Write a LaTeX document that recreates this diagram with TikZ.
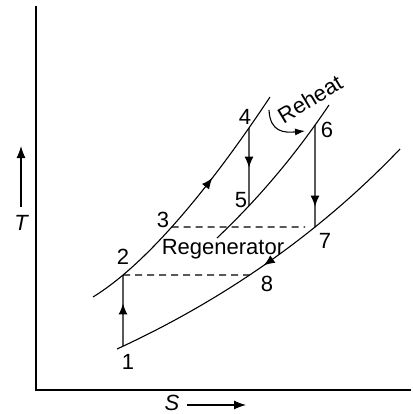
\documentclass[tikz,border=0pt]{standalone}
\usepackage{fontspec}
\setmainfont{Liberation Sans}
\usetikzlibrary{arrows.meta,decorations.markings,intersections}

\tikzset{
  midarrow/.style={postaction={decorate},
    decoration={markings,mark=at position #1 with {\arrow{Latex[length=11pt,width=9pt]}}}},
  backarrow/.style={postaction={decorate},
    decoration={markings,mark=at position #1 with {\arrowreversed{Latex[length=11pt,width=9pt]}}}},
  lbl/.style={font=\fontsize{22}{26}\selectfont, inner sep=0pt},
  regen/.style={dash pattern=on 7pt off 5pt},
}

\begin{document}
\begin{tikzpicture}[x=1pt,y=-1pt,line width=1.1pt]
	\useasboundingbox (0,0) rectangle (412,414);
	
	% axes
	\draw (36,6) -- (36,390) -- (411,390);
	\draw[-{Latex[length=12pt,width=9pt]}] (21,207) -- (21,146);
	\draw[-{Latex[length=12pt,width=9pt]}] (187,405) -- (246,405);
	\node[lbl] (T) at (21,223) {\itshape T};
	\node[lbl] (S) at (172,403) {\itshape S};
	
	% constant pressure lines
	\draw[name path=high,midarrow=0.63] (93,297) .. controls (150,262) and (215,180) .. (270,97);
	\draw[name path=mid] (217,238) .. controls (257,200) and (294,157) .. (329,105);
	\draw[name path=low,backarrow=0.485] (117,349) .. controls (217,303) and (315,238) .. (400,149);
	
	% state points
	\path[name path=s12] (123,0) -- (123,414);
	\path[name path=s45] (249,0) -- (249,414);
	\path[name path=s67] (315,0) -- (315,414);
	\path[name path=h3] (0,227) -- (412,227);
	\path[name intersections={of=s12 and low,by=p1}];
	\path[name intersections={of=s12 and high,by=p2}];
	\path[name intersections={of=h3 and high,by=p3}];
	\path[name intersections={of=s45 and high,by=p4}];
	\path[name intersections={of=s45 and mid,by=p5}];
	\path[name intersections={of=s67 and mid,by=p6}];
	\path[name intersections={of=s67 and low,by=p7}];
	\path[name path=h2] (p2) -- ++(300,0);
	\path[name intersections={of=h2 and low,by=p8}];
	\coordinate (r3) at (305,227);
	
	% compression and expansion
	\draw[midarrow=0.6] (p1) -- (p2);
	\draw[midarrow=0.51] (p4) -- (p5);
	\draw[midarrow=0.8] (p6) -- (p7);
	
	% regenerator
	\draw[regen] (p3) -- (r3);
	\draw[regen] (p2) -- (p8);
	
	% reheat
	\coordinate (rh0) at (269,110);
	\coordinate (rh1) at (305,131);
	\draw[-{Latex[length=10pt,width=7pt]}] (rh0) .. controls (270,132) and (284,133) .. (rh1);
	\node[lbl,rotate=31] (reheat) at (310,99) {Reheat};
	
	\node[lbl] (n1) at (128,362) {1};
	\node[lbl] (n2) at (123,257) {2};
	\node[lbl] (n3) at (163,220) {3};
	\node[lbl] (n4) at (245,117) {4};
	\node[lbl] (n5) at (241,200) {5};
	\node[lbl] (n6) at (327,130) {6};
	\node[lbl] (n7) at (325,241) {7};
	\node[lbl] (n8) at (267,284) {8};
	\node[lbl] (regtxt) at (223,249) {Regenerator};
\end{tikzpicture}
\end{document}
